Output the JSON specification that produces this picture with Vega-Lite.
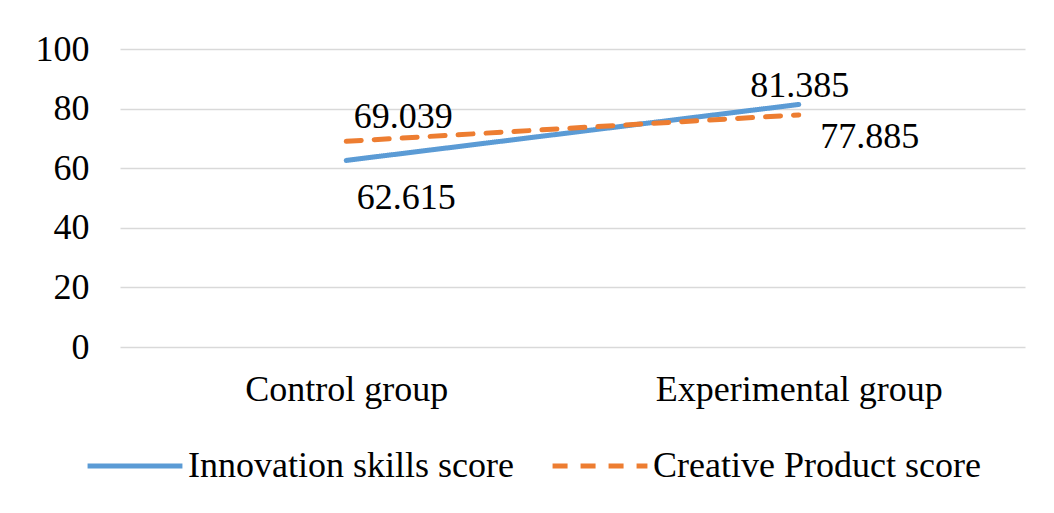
{
  "$schema": "https://vega.github.io/schema/vega-lite/v6.json",
  "autosize": {"type": "none"},
  "width": 905,
  "height": 298,
  "padding": {"left": 120, "top": 49, "right": 29, "bottom": 166},
  "background": "white",
  "config": {
    "font": "Liberation Serif",
    "view": {"stroke": null},
    "axis": {"labelFont": "Liberation Serif", "labelColor": "#000000", "labelFontSize": 36, "labelLimit": 0}
  },
  "data": {
    "values": [
      {"group": "Control group", "series": "Innovation skills score", "value": 62.615},
      {"group": "Experimental group", "series": "Innovation skills score", "value": 81.385},
      {"group": "Control group", "series": "Creative Product score", "value": 69.039},
      {"group": "Experimental group", "series": "Creative Product score", "value": 77.885}
    ]
  },
  "encoding": {
    "x": {
      "field": "group", "type": "nominal", "sort": null,
      "axis": {"title": null, "labelAngle": 0, "domain": false, "ticks": false, "labelPadding": 25, "labelBaseline": "top"}
    },
    "y": {
      "field": "value", "type": "quantitative",
      "scale": {"domain": [0, 100]},
      "axis": {"title": null, "values": [0, 20, 40, 60, 80, 100], "domain": false, "ticks": false, "labelPadding": 31, "gridColor": "#d9d9d9", "gridWidth": 1.5}
    }
  },
  "layer": [
    {
      "mark": {"type": "line", "strokeWidth": 5, "strokeCap": "round"},
      "encoding": {
        "color": {
          "field": "series", "type": "nominal",
          "scale": {"domain": ["Innovation skills score", "Creative Product score"], "range": ["#5B9BD5", "#ED7D31"]},
          "legend": {
            "title": null, "orient": "none", "direction": "horizontal", "legendX": -35, "legendY": 367,
            "labelFontSize": 36, "labelFont": "Liberation Serif", "labelColor": "#000000", "labelLimit": 0,
            "symbolType": "stroke", "symbolSize": 9000, "symbolStrokeWidth": 5,
            "labelOffset": 3, "columnPadding": 28
          }
        },
        "strokeDash": {
          "field": "series", "type": "nominal",
          "scale": {"domain": ["Innovation skills score", "Creative Product score"], "range": [[1, 0], [15, 13]]},
          "legend": null
        }
      }
    },
    {
      "transform": [{"filter": "datum.series === 'Creative Product score' && datum.group === 'Control group'"}],
      "mark": {"type": "text", "fontSize": 36, "font": "Liberation Serif", "color": "#000000", "dx": 57, "dy": -24},
      "encoding": {"text": {"field": "value", "type": "quantitative", "format": ".3f"}}
    },
    {
      "transform": [{"filter": "datum.series === 'Innovation skills score' && datum.group === 'Control group'"}],
      "mark": {"type": "text", "fontSize": 36, "font": "Liberation Serif", "color": "#000000", "dx": 60, "dy": 38},
      "encoding": {"text": {"field": "value", "type": "quantitative", "format": ".3f"}}
    },
    {
      "transform": [{"filter": "datum.series === 'Innovation skills score' && datum.group === 'Experimental group'"}],
      "mark": {"type": "text", "fontSize": 36, "font": "Liberation Serif", "color": "#000000", "dx": 1, "dy": -18},
      "encoding": {"text": {"field": "value", "type": "quantitative", "format": ".3f"}}
    },
    {
      "transform": [{"filter": "datum.series === 'Creative Product score' && datum.group === 'Experimental group'"}],
      "mark": {"type": "text", "fontSize": 36, "font": "Liberation Serif", "color": "#000000", "dx": 71, "dy": 22},
      "encoding": {"text": {"field": "value", "type": "quantitative", "format": ".3f"}}
    }
  ]
}
